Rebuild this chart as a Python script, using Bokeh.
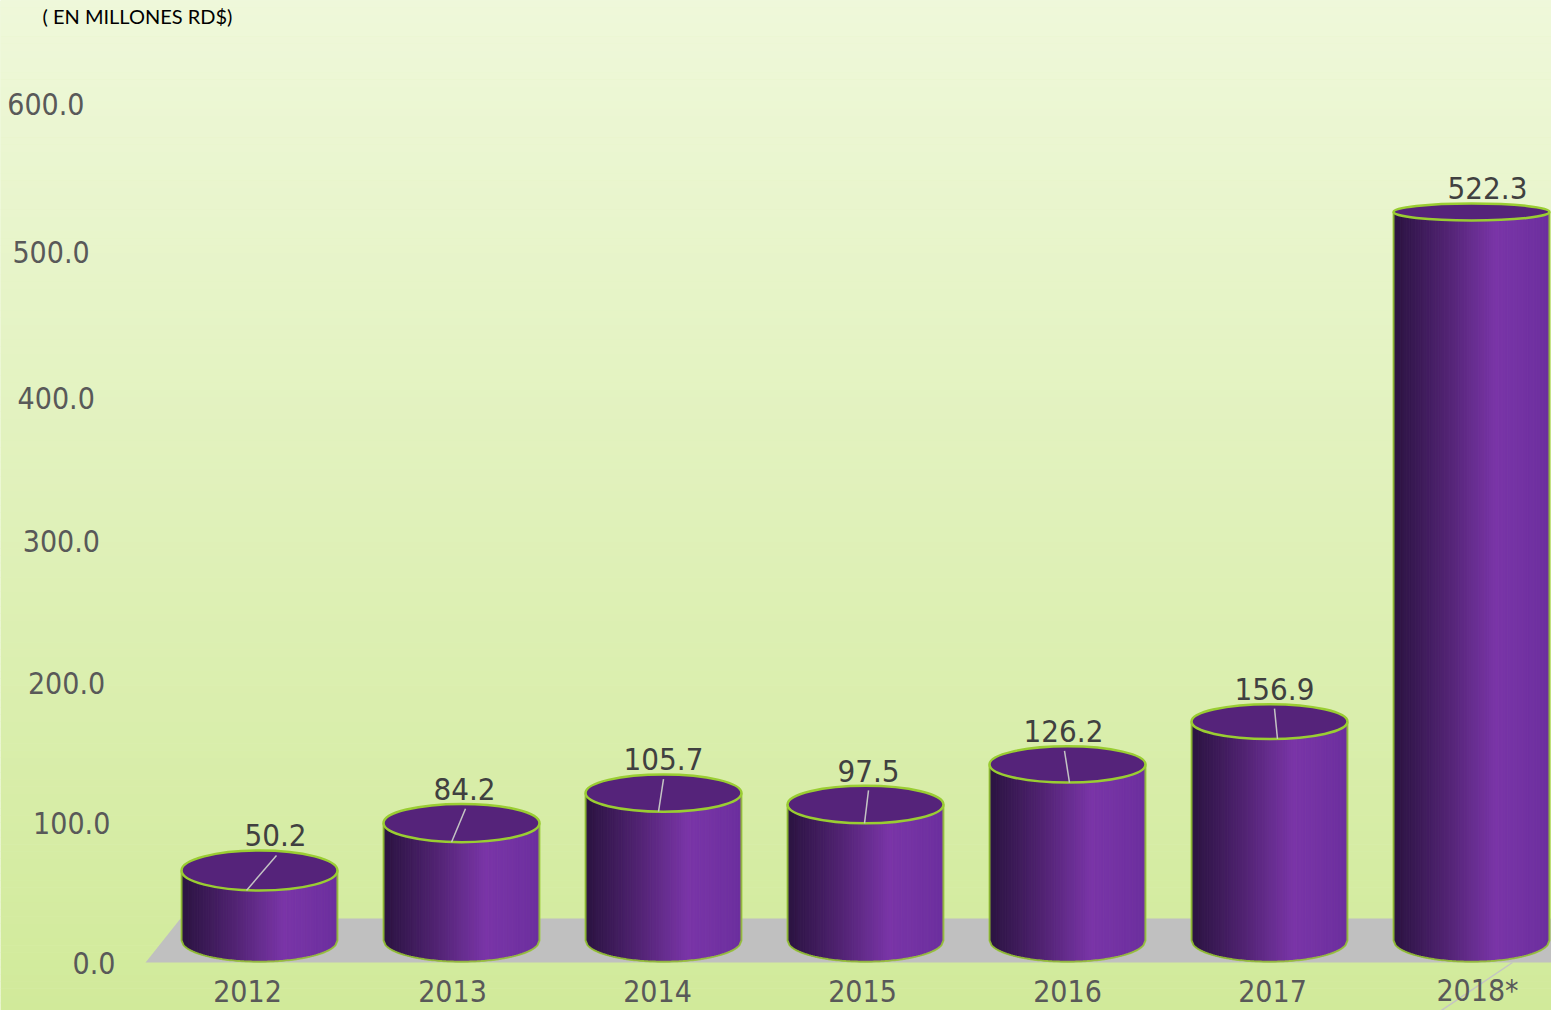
import numpy as np
from bokeh.plotting import figure
from bokeh.models import Range1d
from bokeh.core.properties import value
from bokeh.embed import file_html
from bokeh.resources import INLINE

# ---------------- data ----------------
categories = ["2012", "2013", "2014", "2015", "2016", "2017", "2018*"]
values = [50.2, 84.2, 105.7, 97.5, 126.2, 156.9, 522.3]
value_labels = ["50.2", "84.2", "105.7", "97.5", "126.2", "156.9", "522.3"]
y_ticks = [0, 100, 200, 300, 400, 500, 600]
y_tick_labels = ["0.0", "100.0", "200.0", "300.0", "400.0", "500.0", "600.0"]
unit_note = "( EN MILLONES RD$)"

# ---------------- layout / style ----------------
W, H = 1551, 1010
PX_X = 202.0          # pixels per category step
PX_Y = 1.395          # pixels per value unit
X0 = 259.0            # plot pixel of first category centre
Y0 = 940.0            # plot pixel of value 0
x_start, x_end = -X0 / PX_X, (W - X0) / PX_X
y_start, y_end = -(H - Y0) / PX_Y, Y0 / PX_Y


def dx(px):
    return px / PX_X


def dy(px):
    return px / PX_Y


FONT = value("DejaVu Sans Condensed")
HALF_W = 0.386
label_shift_px = [16, 3, 0, 3, -4, 5, 16]
leader_start_px = [17, 4, 0, 3, -3, 5]
leader_end_px = [-13, -10, -5, -1, 2, 8]


def ell_h(v):
    # perspective: ellipse height (data units) shrinks as the top rises
    return 30.4 - 0.0349 * v


def hex2rgb(h):
    h = h.lstrip("#")
    return np.array([int(h[i:i + 2], 16) for i in (0, 2, 4)], dtype=float)


def rgb2hex(c):
    return "#%02x%02x%02x" % tuple(int(round(x)) for x in c)


def grad(stops, t):
    for (t0, c0), (t1, c1) in zip(stops[:-1], stops[1:]):
        if t <= t1:
            f = (t - t0) / (t1 - t0) if t1 > t0 else 0
            return rgb2hex(hex2rgb(c0) * (1 - f) + hex2rgb(c1) * f)
    return stops[-1][1]


body_stops = [(0.0, "#2a1340"), (0.3, "#4c216c"), (0.66, "#7a35a8"), (1.0, "#6c2f9e")]
bg_stops = [(0.0, "#d1ea9a"), (1.0, "#eff8da")]
GREEN = "#9acd32"

p = figure(width=W, height=H, x_range=Range1d(x_start, x_end), y_range=Range1d(y_start, y_end),
           output_backend="svg", toolbar_location=None, min_border=0,
           x_axis_location=None, y_axis_location=None)
p.grid.visible = False
p.outline_line_color = None
p.background_fill_color = "#e0f1ba"
p.border_fill_color = "#e0f1ba"

# background gradient (vertical)
nb = 140
edges = np.linspace(y_start, y_end, nb + 1)
bg_cols = [grad(bg_stops, (k + 0.5) / nb) for k in range(nb)]
p.quad(left=x_start, right=x_end, bottom=edges[:-1], top=edges[1:] + 0.3,
       fill_color=bg_cols, line_color=None)

n = len(categories)
# floor
floor_d = 15.8
p.patch(x=[-0.564, n - 1 + 0.64, n - 1 + 0.39, -0.391],
        y=[-floor_d, -floor_d, floor_d, floor_d],
        fill_color="#c0c0c0", line_color=None)

# cylinder bodies (vertical strips with horizontal gradient)
N = 70
us = np.linspace(-1, 1, N + 1)
xs, ys, cols = [], [], []
out_xs, out_ys = [], []
for i, v in enumerate(values):
    ht = ell_h(v)
    hb = ell_h(0)
    for k in range(N):
        ua, ub = us[k], us[k + 1]
        xa, xb = i + HALF_W * ua, i + HALF_W * ub
        ba = -hb / 2 * np.sqrt(max(0, 1 - ua * ua))
        bb = -hb / 2 * np.sqrt(max(0, 1 - ub * ub))
        ta = v - ht / 2 * np.sqrt(max(0, 1 - ua * ua))
        tb = v - ht / 2 * np.sqrt(max(0, 1 - ub * ub))
        xs.append([xa, xb, xb, xa])
        ys.append([ba, bb, tb, ta])
        cols.append(grad(body_stops, (k + 0.5) / N))
    uu = np.linspace(-1, 1, 81)
    bx = list(i + HALF_W * uu)
    by = list(-hb / 2 * np.sqrt(1 - uu * uu))
    out_xs.append([i - HALF_W] + bx + [i + HALF_W])
    out_ys.append([v] + by + [v])

p.patches(xs=xs, ys=ys, fill_color=cols, line_color=cols, line_width=1)
p.multi_line(xs=out_xs, ys=out_ys, line_color=GREEN, line_width=2, line_alpha=0.85)

# top ellipses
centers = list(range(n))
p.ellipse(x=centers, y=values, width=2 * HALF_W, height=[ell_h(v) for v in values],
          fill_color="#55237a", line_color=GREEN, line_width=2.5)

# leader lines
lx, ly = [], []
for i, v in enumerate(values[:-1]):
    ht = ell_h(v)
    lx.append([i + dx(leader_start_px[i]), i + dx(leader_end_px[i])])
    ly.append([v + ht / 2 * 0.75, v - ht / 2])
last = n - 1
lx.append([last + dx(41), last + dx(-45)])
ly.append([-dy(22), -dy(80)])
p.multi_line(xs=lx, ys=ly, line_color="#c4c4c4", line_width=1.5)

# value labels
p.text(x=[i + dx(s) for i, s in enumerate(label_shift_px)],
       y=[v + ell_h(v) / 2 + dy(15) for v in values],
       text=value_labels, text_align="center", text_baseline="middle",
       text_font=FONT, text_font_size="31px", text_color="#404040")

# y tick labels (perspective placement)
p.text(x=[dx(115 - 0.0517 * t - X0) for t in y_ticks],
       y=[t - dy(22 * (1 - (t / 600.0) ** 3)) for t in y_ticks],
       text=y_tick_labels, text_align="right", text_baseline="middle",
       text_font=FONT, text_font_size="30px", text_color="#595959")

# category labels
p.text(x=[i + dx(-12 + 3 * i) for i in range(n)], y=[-dy(50)] * n,
       text=categories, text_align="center", text_baseline="middle",
       text_font=FONT, text_font_size="30px", text_color="#595959")

# unit note
p.text(x=[dx(42 - X0)], y=[dy(Y0 - 15)], text=[unit_note], text_align="left",
       text_baseline="middle", text_font=value("Lato"), text_font_size="20px",
       text_color="#000000")

open("out.html", "w").write(file_html(p, INLINE))
